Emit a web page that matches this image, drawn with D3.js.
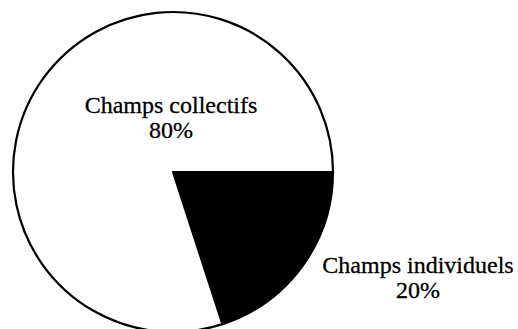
<!DOCTYPE html>
<html><head><meta charset="utf-8">
<script src="https://cdn.jsdelivr.net/npm/d3@7"></script>
<style>body{margin:0;background:#fff}svg{display:block}</style>
</head><body>
<script>
const categories = ["Champs individuels", "Champs collectifs"];
const values = [20, 80];
const labels = ["20%", "80%"];

const W = 518, H = 329;
const svg = d3.select("body").append("svg").attr("width", W).attr("height", H);
const cx = 173, cy = 172, r = 160;
const g = svg.append("g").attr("transform", `translate(${cx},${cy})`);

const pie = d3.pie().sort(null).value(d => d.v).startAngle(Math.PI / 2).endAngle(Math.PI / 2 + 2 * Math.PI);
const data = categories.map((c, i) => ({ c, v: values[i], l: labels[i] }));
const arcs = pie(data);
const arc = d3.arc().innerRadius(0).outerRadius(r);
const fills = ["#000", "#fff"];

g.selectAll("path").data(arcs).join("path")
  .attr("d", arc)
  .attr("fill", (d, i) => fills[i])
  .attr("stroke", "#000").attr("stroke-width", 2.2).attr("stroke-linejoin", "round");

const font = "'Liberation Serif', 'DejaVu Serif', serif";
const labelPos = [[418, 273], [171, 113]];
arcs.forEach((a, i) => {
  const t = svg.append("text").attr("x", labelPos[i][0]).attr("y", labelPos[i][1])
    .attr("text-anchor", "middle").attr("font-family", font).attr("font-size", 24)
    .attr("fill", "#000").attr("stroke", "#000").attr("stroke-width", 0.3);
  t.append("tspan").attr("x", labelPos[i][0]).text(a.data.c);
  t.append("tspan").attr("x", labelPos[i][0]).attr("dy", 24.5).text(a.data.l);
});
</script>
</body></html>
